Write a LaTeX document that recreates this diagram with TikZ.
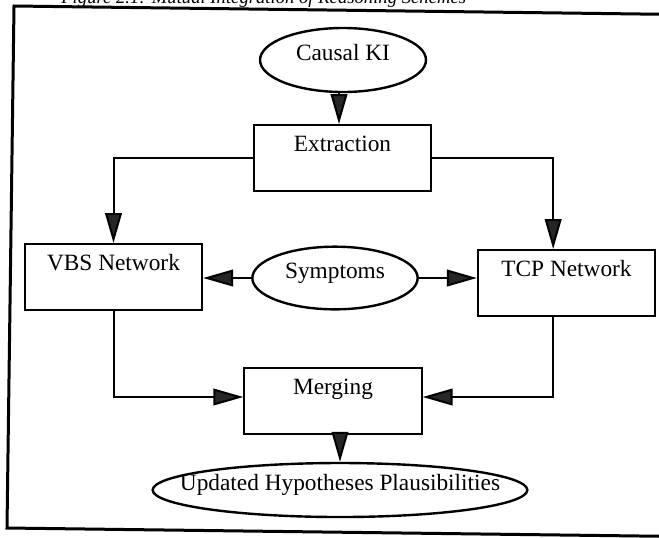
\documentclass[tikz,border=0pt]{standalone}
\usepackage{fontspec}
\setmainfont{Liberation Serif}
\usetikzlibrary{arrows.meta,shapes.geometric}

\tikzset{every picture/.style={line width=0.75pt}}
\tikzset{
  procbox/.style={draw, rectangle, line width=1.5pt, inner sep=0pt, anchor=north,
    minimum width=133pt, text height=19.5pt, text depth=30pt},
  dataell/.style={draw, ellipse, line width=1.8pt, inner sep=0pt, text height=0pt, text depth=0pt},
  flow/.style={line width=1.5pt, -{Triangle[length=22.5pt,width=12.5pt,fill=black!85]}},
}

\begin{document}
\begin{tikzpicture}[x=0.75pt,y=0.75pt,yscale=-1,xscale=1,font=\fontsize{17.5}{21}\selectfont]
\useasboundingbox (0,0) rectangle (659,537);

%Shape: Frame
\draw [line width=2.25pt] (680,14.5) -- (14,6) -- (7,528) -- (680,536.5) ;

% Text Node
\node [anchor=base east, font=\fontsize{14}{16}\selectfont\itshape] (title) at (471,3) {Figure 2.1: Mutual Integration of Reasoning Schemes};

%Shape: Ellipse
\node [dataell, minimum width=124.5pt, minimum height=48pt] (causal) at (343,60) {\makebox[0pt]{Causal KI}};
%Shape: Rectangle
\node [procbox] (extract) at (342.5,124) {Extraction};
%Shape: Rectangle
\node [procbox] (vbs) at (113.5,243) {VBS Network};
%Shape: Ellipse
\node [dataell, minimum width=124pt, minimum height=47pt] (sympt) at (335,278) {\makebox[0pt]{Symptoms}};
%Shape: Rectangle
\node [procbox] (tcp) at (566.5,249) {TCP Network};
%Shape: Rectangle
\node [procbox] (merge) at (333,367) {Merging};
%Shape: Ellipse
\node [dataell, minimum width=281pt, minimum height=40.5pt] (upd) at (340,490) {\makebox[0pt]{Updated Hypotheses Plausibilities}};

%Straight Lines
\draw [flow] ([xshift=-3pt]causal.south) -- ([xshift=-3pt]causal.south |- extract.north) ;
\draw [flow] (extract.west) -| (vbs.north) ;
\draw [flow] (extract.east) -| ([xshift=-10pt]tcp.north) ;
\draw [flow] (sympt.west) -- (sympt.west -| vbs.east) ;
\draw [flow] (sympt.east) -- (sympt.east -| tcp.west) ;
\draw [flow] (vbs.south) |- ([yshift=-3pt]merge.west) ;
\draw [flow] ([xshift=-10pt]tcp.south) |- ([yshift=-3pt]merge.east) ;
\draw [flow] (upd.north |- merge.south) -- (upd.north) ;

\end{tikzpicture}
\end{document}
